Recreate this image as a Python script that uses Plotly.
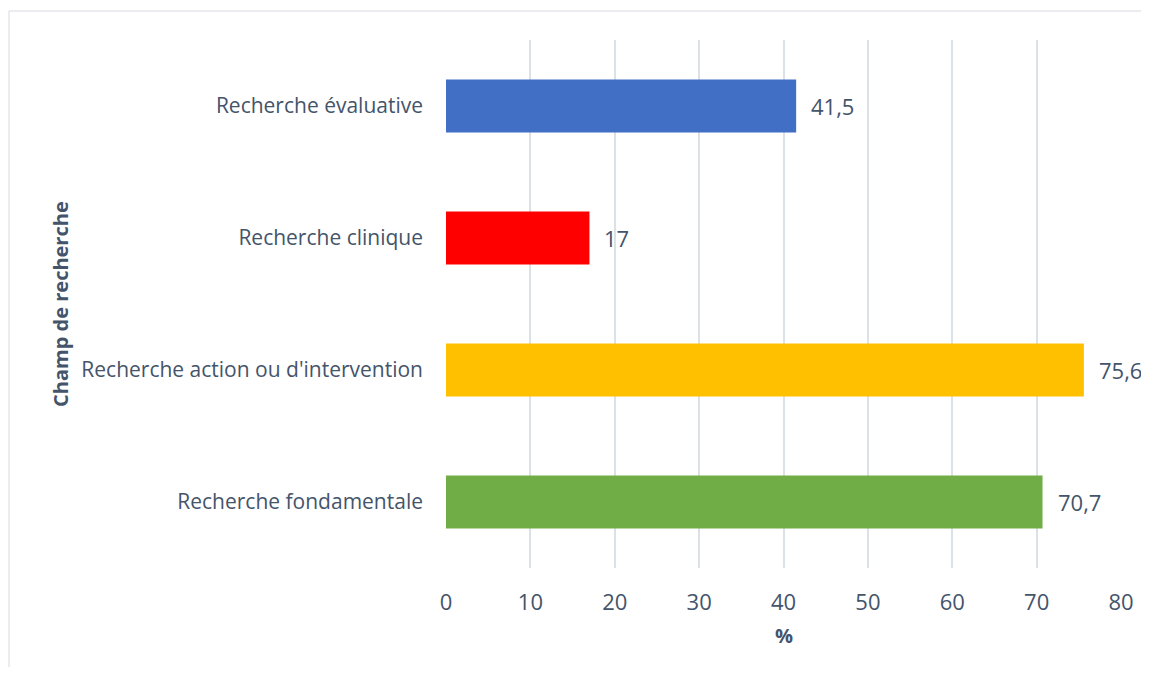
import plotly.graph_objects as go

categories = ["Recherche fondamentale", "Recherche action ou d'intervention", "Recherche clinique", "Recherche évaluative"]
values = [70.7, 75.6, 17, 41.5]
colors = ["#70AD47", "#FFC000", "#FF0000", "#416FC6"]
x_ticks = [0, 10, 20, 30, 40, 50, 60, 70, 80]

FONT = "Open Sans"
FS = 21
NUM_FS = 22
TXT = "#44546A"

fig = go.Figure()
fig.add_trace(go.Bar(
    y=categories, x=values, orientation="h",
    marker=dict(color=colors, line=dict(width=0)),
    width=0.4,
    hoverinfo="skip",
))

for c, v in zip(categories, values):
    fig.add_annotation(x=v, y=c, text=f"{v:g}".replace(".", ","), showarrow=False,
                       xanchor="left", xshift=13, font=dict(family=FONT, size=NUM_FS, color=TXT))

fig.add_annotation(xref="paper", yref="paper", x=-0.572, y=0.5, text="<b>Champ de recherche</b>",
                   textangle=-90, showarrow=False, xanchor="center", yanchor="middle",
                   font=dict(family=FONT, size=20, color=TXT))
fig.add_annotation(xref="paper", yref="paper", x=0.5, y=-0.128, text="<b>%</b>",
                   showarrow=False, xanchor="center", yanchor="middle",
                   font=dict(family=FONT, size=20, color=TXT))

# chart border
fig.add_shape(type="line", xref="paper", yref="paper", x0=-0.6474, x1=1.1, y0=1.0549, y1=1.0549,
              line=dict(color="#E3E6EA", width=1.5))
fig.add_shape(type="line", xref="paper", yref="paper", x0=-0.6474, x1=-0.6474, y0=1.0549, y1=-0.3,
              line=dict(color="#E3E6EA", width=1.5))

fig.update_layout(
    width=1141, height=659,
    margin=dict(l=438, r=28, t=32, b=99),
    paper_bgcolor="white", plot_bgcolor="white",
    separators=", ",
    showlegend=False,
    font=dict(family=FONT, size=FS, color=TXT),
    xaxis=dict(range=[0, 80], tickvals=x_ticks, showgrid=True, gridcolor="#DCE0E7", gridwidth=1.5,
               zeroline=False, showline=False, ticks="", ticklabelstandoff=19,
               tickfont=dict(family=FONT, size=NUM_FS, color=TXT)),
    yaxis=dict(categoryorder="array", categoryarray=categories, showgrid=False, zeroline=False,
               showline=False, ticks="", ticklabelstandoff=22,
               tickfont=dict(family=FONT, size=FS, color=TXT)),
)

fig.write_html("out.html")
